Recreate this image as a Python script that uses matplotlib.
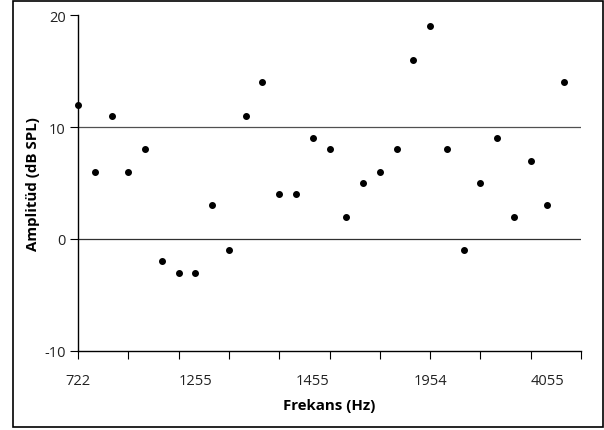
import matplotlib
matplotlib.use('Agg')
import matplotlib.pyplot as plt
from matplotlib.patches import Rectangle

plt.rcParams['font.family'] = ['Open Sans', 'DejaVu Sans']

# amplitude per frequency band (dB SPL), 30 bands
amplitude = [12, 6, 11, 6, 8, -2, -3, -3, 3, -1,
             11, 14, 4, 4, 9, 8, 2, 5, 6, 8,
             16, 19, 8, -1, 5, 9, 2, 7, 3, 14]
freq_labels = ['722', '1255', '1455', '1954', '4055']
label_pos = [0, 7, 14, 21, 28]

fig = plt.figure(figsize=(6.04, 4.31), dpi=100)
ax = fig.add_axes([78/604, 1-352/431, (581-78)/604, (352-16)/431])

x = list(range(len(amplitude)))
ax.scatter(x, amplitude, s=16, color='black', zorder=3, clip_on=False)

ax.axhline(0, color='#303030', lw=0.9, zorder=1)
ax.axhline(10, color='#505050', lw=0.9, zorder=1)

ax.set_xlim(0, 30)
ax.set_ylim(-10, 20)
ax.set_yticks([-10, 0, 10, 20])
ax.set_yticklabels(['-10', '0', '10', '20'])
ax.set_xticks(range(0, 31, 3))
ax.set_xticklabels([])
ax.tick_params(axis='x', length=6, direction='out', width=0.8)
ax.tick_params(axis='y', length=6, direction='out', width=0.8, labelsize=10.5,
               pad=3, colors='#222222')
ax.tick_params(axis='y', color='black')

# category labels every 7th band
sec = ax.secondary_xaxis('bottom')
sec.set_xticks(label_pos)
sec.set_xticklabels(freq_labels)
sec.tick_params(length=0, pad=16, labelsize=10.5, colors='#222222')
sec.spines['bottom'].set_visible(False)

for s in ['top', 'right']:
    ax.spines[s].set_visible(False)
ax.spines['left'].set_linewidth(1.0)
ax.spines['bottom'].set_linewidth(1.0)

sec.set_xlabel('Frekans (Hz)', fontsize=10.8, fontweight='bold', labelpad=7)
ax.set_ylabel('Amplitüd (dB SPL)', fontsize=10.8, fontweight='bold', labelpad=3)

fig.patches.append(Rectangle((12.5/604, 3/431), 590/604, 426/431, transform=fig.transFigure,
                             fill=False, edgecolor='black', lw=1.2))

fig.savefig('out.png', dpi=100)
